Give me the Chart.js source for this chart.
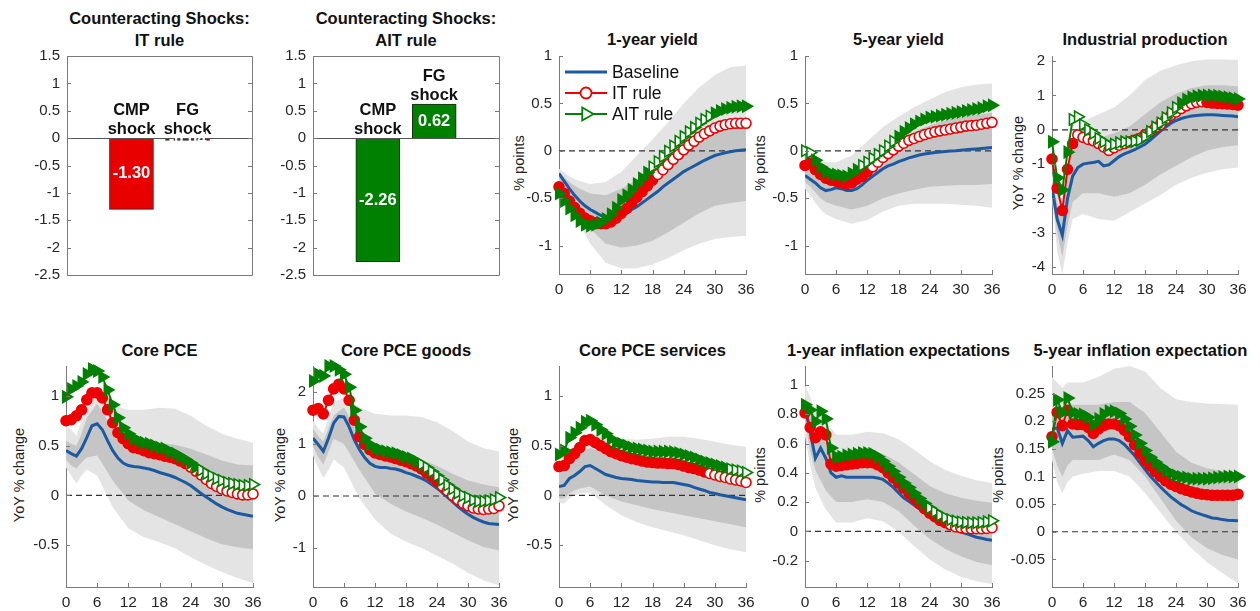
<!DOCTYPE html>
<html>
<head>
<meta charset="utf-8">
<title>Counteracting shocks</title>
<script src="https://cdn.jsdelivr.net/npm/chart.js@4.4.1/dist/chart.umd.min.js"></script>
<style>
  body { margin: 0; background: #fff; }
  #page { position: relative; width: 1260px; height: 611px; overflow: hidden; font-family: 'Liberation Sans', Arial, sans-serif; color: #111; }
  #page canvas { position: absolute; }
  #labels { position: absolute; left: 0; top: 0; width: 1248px; height: 611px; overflow: hidden; }
  .title { position: absolute; width: 320px; text-align: center; font-weight: bold; font-size: 16.5px; line-height: 22px; white-space: nowrap; }
  .ylab { position: absolute; width: 200px; text-align: center; font-size: 14.5px; line-height: 16px; white-space: nowrap; transform: rotate(-90deg); color: #222; }
</style>
</head>
<body>
<div id="page"><div id="labels"></div></div>
<script>
// x axis: months after the shock
const months = [0,1,2,3,4,5,6,7,8,9,10,11,12,13,14,15,16,17,18,19,20,21,22,23,24,25,26,27,28,29,30,31,32,33,34,35,36];
const monthTicks = [0, 6, 12, 18, 24, 30, 36];
const bandMonths = [0,1,2,3,4,6,9,12,15,18,21,24,27,30,33,36];
const seriesNames = ['Baseline', 'IT rule', 'AIT rule'];

// counteracting shocks (bar panels)
const shockLabels = ['CMP shock', 'FG shock'];
const shockPos = [1, 2];
const itShock = [-1.30, -0.04];
const aitShock = [-2.26, 0.62];
const shockTicks = [-2.5, -2, -1.5, -1, -0.5, 0, 0.5, 1, 1.5];

// 1-year yield
const y1Base = [-0.24,-0.32,-0.4,-0.47,-0.53,-0.58,-0.62,-0.65,-0.68,-0.71,-0.73,-0.72,-0.7,-0.66,-0.62,-0.59,-0.55,-0.51,-0.47,-0.43,-0.38,-0.34,-0.3,-0.26,-0.22,-0.19,-0.16,-0.13,-0.1,-0.075,-0.05,-0.035,-0.02,-0.01,0.0,0.005,0.01];
const y1IT = [-0.38,-0.45,-0.53,-0.6,-0.66,-0.71,-0.74,-0.76,-0.77,-0.77,-0.75,-0.71,-0.66,-0.61,-0.55,-0.49,-0.43,-0.37,-0.31,-0.25,-0.2,-0.145,-0.09,-0.04,0.01,0.06,0.1,0.145,0.18,0.21,0.24,0.26,0.275,0.285,0.29,0.29,0.29];
const y1AIT = [-0.45,-0.53,-0.61,-0.68,-0.74,-0.78,-0.79,-0.78,-0.76,-0.72,-0.67,-0.6,-0.52,-0.47,-0.41,-0.35,-0.29,-0.23,-0.17,-0.115,-0.06,-0.005,0.05,0.1,0.15,0.2,0.245,0.29,0.33,0.365,0.395,0.42,0.44,0.455,0.465,0.47,0.47];
const y1Hi90 = [-0.19,-0.23,-0.27,-0.3,-0.32,-0.35,-0.33,-0.22,-0.05,0.12,0.3,0.5,0.67,0.8,0.88,0.9];
const y1Hi68 = [-0.22,-0.28,-0.33,-0.37,-0.4,-0.45,-0.47,-0.4,-0.3,-0.18,-0.04,0.1,0.2,0.28,0.33,0.35];
const y1Lo68 = [-0.3,-0.38,-0.46,-0.56,-0.65,-0.82,-0.98,-1.02,-1.0,-0.95,-0.86,-0.76,-0.66,-0.58,-0.55,-0.53];
const y1Lo90 = [-0.34,-0.45,-0.55,-0.67,-0.78,-0.98,-1.18,-1.24,-1.24,-1.2,-1.13,-1.05,-0.98,-0.93,-0.91,-0.9];
const yieldTicks = [-1, -0.5, 0, 0.5, 1];

// 5-year yield
const y5Base = [-0.26,-0.3,-0.34,-0.39,-0.42,-0.41,-0.39,-0.4,-0.42,-0.42,-0.4,-0.36,-0.31,-0.27,-0.23,-0.19,-0.16,-0.14,-0.115,-0.095,-0.075,-0.06,-0.045,-0.035,-0.025,-0.018,-0.012,-0.007,-0.003,0.0,0.005,0.01,0.015,0.02,0.025,0.03,0.035];
const y5IT = [-0.155,-0.13,-0.2,-0.25,-0.29,-0.31,-0.32,-0.34,-0.35,-0.34,-0.3,-0.27,-0.22,-0.17,-0.12,-0.07,-0.03,0.01,0.05,0.08,0.11,0.13,0.15,0.17,0.185,0.2,0.21,0.22,0.23,0.24,0.25,0.26,0.265,0.27,0.28,0.29,0.3];
const y5AIT = [0.0,-0.02,-0.1,-0.17,-0.22,-0.24,-0.25,-0.26,-0.27,-0.24,-0.2,-0.155,-0.12,-0.08,-0.04,0.0,0.05,0.1,0.15,0.2,0.24,0.28,0.31,0.33,0.35,0.36,0.37,0.38,0.39,0.4,0.41,0.42,0.43,0.44,0.45,0.47,0.48];
const y5Hi90 = [-0.12,-0.12,-0.12,-0.12,-0.12,-0.12,-0.05,0.1,0.25,0.36,0.46,0.54,0.62,0.67,0.7,0.71];
const y5Hi68 = [-0.18,-0.2,-0.23,-0.25,-0.26,-0.27,-0.25,-0.15,-0.02,0.1,0.2,0.27,0.32,0.36,0.38,0.4];
const y5Lo68 = [-0.33,-0.38,-0.44,-0.5,-0.54,-0.58,-0.62,-0.58,-0.5,-0.45,-0.41,-0.38,-0.37,-0.36,-0.36,-0.35];
const y5Lo90 = [-0.4,-0.47,-0.55,-0.62,-0.67,-0.72,-0.77,-0.73,-0.64,-0.58,-0.56,-0.56,-0.56,-0.57,-0.58,-0.6];

// industrial production
const ipBase = [-1.69,-2.6,-3.07,-2.0,-1.35,-1.1,-1.0,-0.97,-0.95,-0.92,-1.05,-1.02,-0.9,-0.78,-0.7,-0.64,-0.58,-0.5,-0.42,-0.3,-0.17,-0.04,0.08,0.19,0.27,0.33,0.37,0.4,0.42,0.43,0.44,0.44,0.43,0.42,0.41,0.4,0.38];
const ipIT = [-0.85,-1.7,-2.35,-1.15,-0.4,-0.15,-0.22,-0.28,-0.32,-0.4,-0.5,-0.6,-0.52,-0.45,-0.4,-0.35,-0.3,-0.25,-0.15,-0.05,0.05,0.15,0.3,0.42,0.52,0.62,0.7,0.76,0.8,0.82,0.8,0.78,0.77,0.76,0.75,0.74,0.72];
const ipAIT = [-0.35,-1.4,-1.75,-0.65,0.3,0.38,0.15,0.0,-0.1,-0.25,-0.35,-0.45,-0.42,-0.38,-0.35,-0.35,-0.33,-0.3,-0.2,-0.05,0.08,0.2,0.35,0.5,0.65,0.78,0.88,0.95,0.98,1.0,1.0,1.0,0.99,0.97,0.95,0.92,0.9];
const ipHi90 = [-1.3,-1.8,-2.0,-0.9,-0.2,0.25,0.45,0.65,1.0,1.45,1.72,1.88,2.0,2.05,2.05,2.03];
const ipHi68 = [-1.5,-2.1,-2.5,-1.3,-0.6,-0.35,-0.25,-0.1,0.1,0.45,0.8,1.05,1.22,1.3,1.3,1.27];
const ipLo68 = [-1.9,-3.0,-3.7,-2.8,-2.1,-1.85,-1.85,-1.95,-1.85,-1.6,-1.3,-1.05,-0.8,-0.6,-0.5,-0.45];
const ipLo90 = [-2.0,-3.5,-4.2,-3.3,-2.6,-2.45,-2.6,-2.65,-2.4,-2.15,-1.9,-1.6,-1.4,-1.25,-1.15,-1.1];
const ipTicks = [-4, -3, -2, -1, 0, 1, 2];

// core PCE
const pceBase = [0.45,0.42,0.395,0.47,0.58,0.7,0.72,0.66,0.55,0.45,0.375,0.325,0.3,0.29,0.285,0.275,0.265,0.25,0.23,0.215,0.2,0.18,0.155,0.13,0.1,0.06,0.02,-0.015,-0.05,-0.085,-0.115,-0.14,-0.16,-0.18,-0.19,-0.2,-0.21];
const pceIT = [0.75,0.76,0.8,0.86,0.96,1.03,1.03,0.98,0.86,0.73,0.63,0.57,0.52,0.48,0.47,0.45,0.43,0.42,0.41,0.395,0.385,0.37,0.345,0.32,0.285,0.245,0.205,0.16,0.12,0.09,0.065,0.045,0.03,0.015,0.005,0.005,0.015];
const pceAIT = [0.99,1.07,1.1,1.14,1.22,1.27,1.25,1.19,1.06,0.91,0.78,0.68,0.62,0.57,0.55,0.53,0.52,0.5,0.48,0.47,0.44,0.42,0.39,0.36,0.325,0.285,0.255,0.22,0.195,0.17,0.15,0.13,0.12,0.11,0.1,0.1,0.11];
const pceHi90 = [0.7,0.66,0.6,0.75,0.88,1.0,0.9,0.86,0.86,0.88,0.87,0.8,0.7,0.62,0.57,0.53];
const pceHi68 = [0.55,0.52,0.5,0.62,0.78,0.92,0.68,0.56,0.54,0.53,0.51,0.47,0.41,0.35,0.31,0.3];
const pceLo68 = [0.36,0.3,0.27,0.33,0.38,0.4,0.15,-0.05,-0.15,-0.22,-0.29,-0.36,-0.43,-0.49,-0.52,-0.54];
const pceLo90 = [0.28,0.2,0.12,0.2,0.26,0.2,-0.12,-0.33,-0.42,-0.47,-0.53,-0.62,-0.7,-0.77,-0.83,-0.88];
const pceTicks = [-0.5, 0, 0.5, 1];

// core PCE goods
const gdsBase = [1.11,0.99,0.86,1.11,1.4,1.53,1.52,1.33,1.08,0.89,0.74,0.63,0.57,0.55,0.55,0.53,0.52,0.49,0.45,0.42,0.38,0.34,0.29,0.22,0.15,0.07,-0.02,-0.11,-0.2,-0.28,-0.35,-0.41,-0.46,-0.5,-0.53,-0.54,-0.55];
const gdsIT = [1.65,1.68,1.58,1.84,2.06,2.15,2.06,1.84,1.46,1.14,0.99,0.89,0.83,0.8,0.77,0.75,0.72,0.69,0.66,0.62,0.58,0.52,0.44,0.37,0.28,0.19,0.1,0.01,-0.07,-0.14,-0.19,-0.23,-0.25,-0.26,-0.25,-0.24,-0.19];
const gdsAIT = [2.21,2.34,2.31,2.5,2.5,2.43,2.34,2.09,1.65,1.33,1.11,0.99,0.92,0.89,0.86,0.84,0.82,0.79,0.75,0.72,0.67,0.61,0.55,0.47,0.39,0.31,0.21,0.14,0.06,0.01,-0.03,-0.08,-0.1,-0.1,-0.09,-0.07,-0.03];
const gdsHi90 = [1.45,1.3,1.2,1.5,1.8,1.9,1.7,1.58,1.55,1.55,1.52,1.42,1.25,1.05,0.92,0.86];
const gdsHi68 = [1.3,1.15,1.05,1.3,1.55,1.7,1.2,0.85,0.77,0.74,0.7,0.58,0.43,0.3,0.22,0.17];
const gdsLo68 = [0.95,0.75,0.6,0.85,1.1,1.0,0.5,0.05,-0.15,-0.3,-0.42,-0.55,-0.7,-0.85,-0.98,-1.05];
const gdsLo90 = [0.78,0.55,0.35,0.5,0.7,0.55,-0.05,-0.45,-0.72,-0.88,-1.0,-1.15,-1.3,-1.48,-1.62,-1.72];
const gdsTicks = [-1, 0, 1, 2];

// core PCE services
const svcBase = [0.09,0.1,0.17,0.2,0.24,0.29,0.3,0.27,0.24,0.21,0.195,0.18,0.17,0.165,0.16,0.15,0.145,0.14,0.135,0.135,0.13,0.13,0.13,0.12,0.11,0.1,0.08,0.065,0.05,0.03,0.02,0.007,-0.003,-0.013,-0.023,-0.033,-0.043];
const svcIT = [0.29,0.3,0.37,0.42,0.48,0.55,0.56,0.53,0.5,0.47,0.44,0.42,0.4,0.385,0.37,0.36,0.345,0.335,0.33,0.325,0.325,0.32,0.32,0.31,0.295,0.28,0.27,0.255,0.235,0.22,0.205,0.19,0.18,0.165,0.155,0.145,0.13];
const svcAIT = [0.41,0.45,0.58,0.63,0.68,0.74,0.75,0.71,0.66,0.62,0.57,0.53,0.52,0.5,0.48,0.47,0.46,0.45,0.44,0.44,0.44,0.44,0.435,0.425,0.41,0.395,0.38,0.36,0.34,0.325,0.31,0.295,0.28,0.265,0.255,0.245,0.23];
const svcHi90 = [0.4,0.38,0.45,0.5,0.55,0.62,0.6,0.57,0.56,0.57,0.59,0.59,0.57,0.54,0.51,0.49];
const svcHi68 = [0.25,0.25,0.32,0.37,0.42,0.48,0.42,0.37,0.35,0.35,0.35,0.34,0.31,0.27,0.24,0.22];
const svcLo68 = [-0.03,-0.03,0.02,0.05,0.07,0.09,0.0,-0.06,-0.1,-0.14,-0.17,-0.2,-0.23,-0.26,-0.29,-0.32];
const svcLo90 = [-0.07,-0.08,-0.03,0.0,0.02,0.03,-0.1,-0.2,-0.27,-0.32,-0.36,-0.4,-0.45,-0.5,-0.54,-0.57];

// 1-year inflation expectations
const ie1Base = [0.86,0.68,0.5,0.57,0.5,0.4,0.37,0.38,0.37,0.37,0.37,0.37,0.37,0.37,0.365,0.355,0.33,0.3,0.265,0.23,0.205,0.18,0.155,0.13,0.105,0.08,0.06,0.04,0.025,0.01,-0.005,-0.015,-0.027,-0.04,-0.047,-0.055,-0.06];
const ie1IT = [0.81,0.71,0.64,0.68,0.66,0.46,0.445,0.45,0.455,0.46,0.465,0.47,0.47,0.47,0.455,0.435,0.4,0.365,0.33,0.295,0.26,0.225,0.19,0.155,0.125,0.1,0.075,0.06,0.045,0.03,0.025,0.02,0.018,0.018,0.018,0.02,0.025];
const ie1AIT = [0.865,0.83,0.75,0.82,0.77,0.57,0.51,0.51,0.52,0.525,0.53,0.535,0.535,0.53,0.51,0.48,0.445,0.41,0.37,0.33,0.3,0.26,0.225,0.19,0.16,0.135,0.11,0.093,0.08,0.07,0.064,0.061,0.059,0.059,0.061,0.066,0.073];
const ie1Hi90 = [1.0,0.92,0.82,0.8,0.75,0.66,0.66,0.68,0.67,0.63,0.56,0.48,0.42,0.38,0.35,0.33];
const ie1Hi68 = [0.92,0.8,0.7,0.68,0.63,0.53,0.53,0.55,0.53,0.47,0.39,0.31,0.26,0.23,0.21,0.195];
const ie1Lo68 = [0.75,0.55,0.42,0.35,0.28,0.2,0.2,0.22,0.2,0.14,0.04,-0.05,-0.12,-0.17,-0.21,-0.23];
const ie1Lo90 = [0.65,0.45,0.3,0.22,0.15,0.06,0.06,0.09,0.07,0.0,-0.1,-0.19,-0.26,-0.31,-0.34,-0.36];
const ie1Ticks = [-0.2, 0, 0.2, 0.4, 0.6, 0.8, 1];

// 5-year inflation expectations
const ie5Base = [0.186,0.188,0.16,0.183,0.171,0.172,0.173,0.165,0.154,0.16,0.165,0.168,0.168,0.165,0.158,0.148,0.138,0.125,0.113,0.101,0.091,0.081,0.072,0.063,0.056,0.049,0.044,0.038,0.034,0.031,0.028,0.025,0.024,0.022,0.021,0.0205,0.02];
const ie5IT = [0.172,0.216,0.192,0.22,0.195,0.194,0.194,0.189,0.178,0.186,0.192,0.195,0.195,0.192,0.184,0.172,0.157,0.142,0.129,0.119,0.109,0.1,0.092,0.086,0.082,0.078,0.075,0.072,0.07,0.068,0.067,0.066,0.066,0.066,0.066,0.066,0.068];
const ie5AIT = [0.163,0.239,0.216,0.242,0.216,0.213,0.212,0.207,0.194,0.204,0.213,0.218,0.218,0.214,0.204,0.191,0.175,0.16,0.147,0.135,0.126,0.118,0.111,0.106,0.102,0.099,0.098,0.096,0.096,0.096,0.096,0.097,0.098,0.099,0.1,0.1,0.1];
const ie5Hi90 = [0.28,0.27,0.26,0.27,0.27,0.27,0.28,0.295,0.3,0.29,0.26,0.24,0.235,0.232,0.231,0.23];
const ie5Hi68 = [0.21,0.22,0.22,0.23,0.23,0.23,0.23,0.235,0.235,0.215,0.18,0.145,0.125,0.115,0.11,0.107];
const ie5Lo68 = [0.15,0.12,0.1,0.12,0.13,0.13,0.13,0.14,0.13,0.1,0.06,0.02,-0.01,-0.03,-0.042,-0.05];
const ie5Lo90 = [0.13,0.09,0.07,0.09,0.1,0.105,0.11,0.11,0.1,0.07,0.035,0.0,-0.03,-0.055,-0.075,-0.093];
const ie5Ticks = [-0.05, 0, 0.05, 0.1, 0.15, 0.2, 0.25];


const BLUE = '#1b5aa0', RED = '#ee0000', GREEN = '#008000';
const LIGHT = '#e4e4e4', DARK = '#c5c5c5', AXIS = '#7a7a7a';
const FONT = "'Liberation Sans', Arial, sans-serif";
const Y_W = 50, X_H = 32, PAD_T = 12, PAD_R = 16;

Chart.defaults.font.family = FONT;
Chart.defaults.font.size = 15;
Chart.defaults.color = '#262626';
Chart.defaults.animation = false;
Chart.defaults.events = [];
Chart.defaults.plugins.legend.display = false;
Chart.defaults.plugins.tooltip.enabled = false;

const page = document.getElementById('page');
const labels = document.getElementById('labels');

function pts(xs, ys) {
    return ys.map((v, i) => ({ x: xs[i], y: v }));
}

// white inside the marker where the response is not significant
function markerFill(n, hollow, color) {
    const out = [];
    for (let i = 0; i < n; i++) {
        const h = hollow.some(r => i >= r[0] && i <= r[1]);
        out.push(h ? '#fff' : color);
    }
    return out;
}

function addCanvas(b) {
    const cv = document.createElement('canvas');
    const w = b.w + Y_W + PAD_R, h = b.h + PAD_T + X_H;
    cv.width = w; cv.height = h;
    cv.style.width = w + 'px'; cv.style.height = h + 'px';
    cv.style.left = (b.x - Y_W) + 'px';
    cv.style.top = (b.y - PAD_T) + 'px';
    page.appendChild(cv);
    return cv;
}

function addTitle(text, cx, top) {
    const d = document.createElement('div');
    d.className = 'title';
    d.innerHTML = text;
    d.style.left = (cx - 160) + 'px';
    d.style.top = top + 'px';
    labels.appendChild(d);
}

function addYLabel(text, cx, cy) {
    const d = document.createElement('div');
    d.className = 'ylab';
    d.textContent = text;
    d.style.left = (cx - 100) + 'px';
    d.style.top = (cy - 8) + 'px';
    labels.appendChild(d);
}

function yScale(min, max, ticks, border) {
    return {
        min, max,
        afterBuildTicks: s => { s.ticks = ticks.map(v => ({ value: v })); },
        afterFit: s => { s.width = Y_W; },
        grid: { display: false, drawTicks: false },
        border: { display: border, color: AXIS },
        ticks: { padding: 7, autoSkip: false, callback: v => String(v) }
    };
}

// small inward tick marks, like the original figure
const axisTicks = {
    id: 'axisTicks',
    afterDraw(chart, args, opts) {
        const { ctx, chartArea: a, scales: { x, y } } = chart;
        ctx.save();
        ctx.strokeStyle = AXIS;
        ctx.lineWidth = 1;
        ctx.beginPath();
        if (opts.xTicks !== false) {
            x.ticks.forEach(t => {
                const px = Math.round(x.getPixelForValue(t.value)) + 0.5;
                ctx.moveTo(px, a.bottom); ctx.lineTo(px, a.bottom - 4);
            });
        }
        y.ticks.forEach(t => {
            const py = Math.round(y.getPixelForValue(t.value)) + 0.5;
            ctx.moveTo(a.left, py); ctx.lineTo(a.left + 4, py);
            if (opts.box) { ctx.moveTo(a.right, py); ctx.lineTo(a.right - 4, py); }
        });
        if (opts.box) ctx.rect(Math.round(a.left) + 0.5, Math.round(a.top) + 0.5, Math.round(a.right - a.left), Math.round(a.bottom - a.top));
        ctx.stroke();
        ctx.restore();
    }
};

const barLabels = {
    id: 'barLabels',
    afterDatasetsDraw(chart) {
        const { ctx, chartArea: a, scales: { y } } = chart;
        const meta = chart.getDatasetMeta(0);
        const vals = chart.data.datasets[0].data;
        const y0 = Math.round(y.getPixelForValue(0)) + 0.5;
        ctx.save();
        ctx.strokeStyle = '#555';
        ctx.lineWidth = 1;
        ctx.beginPath(); ctx.moveTo(a.left, y0); ctx.lineTo(a.right, y0); ctx.stroke();
        ctx.textAlign = 'center';
        ctx.textBaseline = 'middle';
        ctx.font = 'bold 16.5px ' + FONT;
        meta.data.forEach((bar, i) => {
            const top = Math.min(bar.y, bar.base);
            const words = shockLabels[i].split(' ');
            ctx.fillStyle = '#111';
            ctx.fillText(words[0], bar.x, top - 28);
            ctx.fillText(words[1], bar.x, top - 9);
            ctx.fillStyle = '#fff';
            ctx.fillText(vals[i].y.toFixed(2), bar.x, (bar.y + bar.base) / 2);
        });
        ctx.restore();
    }
};

const innerLegend = {
    id: 'innerLegend',
    afterDraw(chart) {
        const { ctx, chartArea: a } = chart;
        const rows = [16, 37, 58];
        const colors = [BLUE, RED, GREEN];
        ctx.save();
        ctx.font = '17.5px ' + FONT;
        ctx.textBaseline = 'middle';
        seriesNames.forEach((name, i) => {
            const yy = a.top + rows[i], x0 = a.left + 6, x1 = a.left + 48, xm = (x0 + x1) / 2;
            ctx.strokeStyle = colors[i];
            ctx.lineWidth = i === 0 ? 3 : 2;
            ctx.beginPath(); ctx.moveTo(x0, yy); ctx.lineTo(x1, yy); ctx.stroke();
            ctx.fillStyle = '#fff';
            ctx.lineWidth = 1.8;
            if (i === 1) {
                ctx.beginPath(); ctx.arc(xm, yy, 5.5, 0, Math.PI * 2); ctx.fill(); ctx.stroke();
            } else if (i === 2) {
                const r = 7.5;
                ctx.beginPath();
                ctx.moveTo(xm + r, yy);
                ctx.lineTo(xm - r / 2, yy - r * 0.866);
                ctx.lineTo(xm - r / 2, yy + r * 0.866);
                ctx.closePath(); ctx.fill(); ctx.stroke();
            }
            ctx.fillStyle = '#111';
            ctx.fillText(name, a.left + 53, yy + 1);
        });
        ctx.restore();
    }
};

function barPanel(p) {
    const cv = addCanvas(p.box);
    new Chart(cv, {
        type: 'bar',
        data: {
            datasets: [{
                data: p.values.map((v, i) => ({ x: shockPos[i], y: v })),
                backgroundColor: p.color,
                borderColor: '#222',
                borderWidth: 1,
                barThickness: 44
            }]
        },
        options: {
            responsive: false,
            devicePixelRatio: 1,
            layout: { padding: { top: PAD_T, right: PAD_R } },
            scales: {
                x: {
                    type: 'linear', min: -0.15, max: 3.15, offset: false,
                    afterFit: s => { s.height = X_H; },
                    ticks: { display: false },
                    grid: { display: false, drawTicks: false },
                    border: { display: false }
                },
                y: yScale(-2.5, 1.5, shockTicks, false)
            },
            plugins: { axisTicks: { box: true, xTicks: false } }
        },
        plugins: [axisTicks, barLabels]
    });
    addTitle(p.title, p.box.x + p.box.w / 2, 7);
}

function linePanel(p) {
    const cv = addCanvas(p.box);
    const band = (arr, color, fill, order) => ({
        data: pts(bandMonths, arr), borderColor: 'rgba(0,0,0,0)', borderWidth: 0,
        pointRadius: 0, backgroundColor: color, fill, order
    });
    const datasets = [
        band(p.hi90, LIGHT, false, 20),
        band(p.lo90, LIGHT, '-1', 20),
        band(p.hi68, DARK, false, 19),
        band(p.lo68, DARK, '-1', 19),
        { data: [{ x: 0, y: 0 }, { x: 36, y: 0 }], borderColor: '#333', borderWidth: 1.2,
          borderDash: [6, 4], pointRadius: 0, fill: false, order: 5 },
        { data: pts(months, p.base), borderColor: BLUE, borderWidth: 3, pointRadius: 0, fill: false, order: 3 },
        { data: pts(months, p.it), borderColor: RED, borderWidth: 2, fill: false, order: 2, clip: false,
          pointRadius: 5, pointBorderWidth: 1.6, pointBorderColor: RED,
          pointBackgroundColor: markerFill(p.it.length, p.itHollow, RED) },
        { data: pts(months, p.ait), borderColor: GREEN, borderWidth: 2, fill: false, order: 1, clip: false,
          pointStyle: 'triangle', pointRotation: 90, pointRadius: 6.5, pointBorderWidth: 1.6,
          pointBorderColor: GREEN, pointBackgroundColor: markerFill(p.ait.length, p.aitHollow, GREEN) }
    ];
    new Chart(cv, {
        type: 'line',
        data: { datasets },
        options: {
            responsive: false,
            devicePixelRatio: 1,
            layout: { padding: { top: PAD_T, right: PAD_R } },
            elements: { line: { tension: 0 } },
            scales: {
                x: {
                    type: 'linear', min: 0, max: 36,
                    afterBuildTicks: s => { s.ticks = monthTicks.map(v => ({ value: v })); },
                    afterFit: s => { s.height = X_H; },
                    grid: { display: false, drawTicks: false },
                    border: { color: AXIS },
                    ticks: { padding: 6, autoSkip: false, maxRotation: 0, font: { size: 15.5 }, callback: v => String(v) }
                },
                y: yScale(p.min, p.max, p.ticks, true)
            },
            plugins: { axisTicks: {} }
        },
        plugins: p.legend ? [axisTicks, innerLegend] : [axisTicks]
    });
    addTitle(p.title, p.box.x + p.box.w / 2, p.box.y < 100 ? 28 : 339);
    addYLabel(p.ylab, p.ylabX, p.box.y + p.box.h / 2);
}

barPanel({ box: { x: 67, y: 52, w: 185, h: 223 }, values: itShock, color: '#e80000',
           title: 'Counteracting Shocks:<br>IT rule' });
barPanel({ box: { x: 313, y: 52, w: 186, h: 223 }, values: aitShock, color: '#008000',
           title: 'Counteracting Shocks:<br>AIT rule' });

const linePanels = [
    { title: '1-year yield', ylab: '% points', ylabX: 519, box: { x: 559, y: 52, w: 187, h: 222 },
      min: -1.3, max: 1, ticks: yieldTicks, legend: true,
      base: y1Base, it: y1IT, ait: y1AIT, hi90: y1Hi90, hi68: y1Hi68, lo68: y1Lo68, lo90: y1Lo90,
      itHollow: [[19, 36]], aitHollow: [[18, 29]] },
    { title: '5-year yield', ylab: '% points', ylabX: 760, box: { x: 805, y: 52, w: 187, h: 222 },
      min: -1.3, max: 1, ticks: yieldTicks,
      base: y5Base, it: y5IT, ait: y5AIT, hi90: y5Hi90, hi68: y5Hi68, lo68: y5Lo68, lo90: y5Lo90,
      itHollow: [[13, 36]], aitHollow: [[0, 1], [11, 17]] },
    { title: 'Industrial production', ylab: 'YoY % change', ylabX: 1018, box: { x: 1052, y: 52, w: 186, h: 222 },
      min: -4.2, max: 2.15, ticks: ipTicks,
      base: ipBase, it: ipIT, ait: ipAIT, hi90: ipHi90, hi68: ipHi68, lo68: ipLo68, lo90: ipLo90,
      itHollow: [[5, 29]], aitHollow: [[4, 24]] },
    { title: 'Core PCE', ylab: 'YoY % change', ylabX: 19, box: { x: 66, y: 362, w: 187, h: 225 },
      min: -0.92, max: 1.3, ticks: pceTicks,
      base: pceBase, it: pceIT, ait: pceAIT, hi90: pceHi90, hi68: pceHi68, lo68: pceLo68, lo90: pceLo90,
      itHollow: [[24, 36]], aitHollow: [[26, 36]] },
    { title: 'Core PCE goods', ylab: 'YoY % change', ylabX: 280, box: { x: 313, y: 362, w: 186, h: 225 },
      min: -1.75, max: 2.5, ticks: gdsTicks,
      base: gdsBase, it: gdsIT, ait: gdsAIT, hi90: gdsHi90, hi68: gdsHi68, lo68: gdsLo68, lo90: gdsLo90,
      itHollow: [[25, 36]], aitHollow: [[21, 36]] },
    { title: 'Core PCE services', ylab: 'YoY % change', ylabX: 513, box: { x: 559, y: 362, w: 187, h: 225 },
      min: -0.92, max: 1.3, ticks: pceTicks,
      base: svcBase, it: svcIT, ait: svcAIT, hi90: svcHi90, hi68: svcHi68, lo68: svcLo68, lo90: svcLo90,
      itHollow: [[29, 36]], aitHollow: [[33, 36]] },
    { title: '1-year inflation expectations', ylab: '% points', ylabX: 760, box: { x: 805, y: 362, w: 187, h: 225 },
      min: -0.38, max: 1.13, ticks: ie1Ticks,
      base: ie1Base, it: ie1IT, ait: ie1AIT, hi90: ie1Hi90, hi68: ie1Hi68, lo68: ie1Lo68, lo90: ie1Lo90,
      itHollow: [[28, 36]], aitHollow: [[24, 36]] },
    { title: '5-year inflation expectations', ylab: '% points', ylabX: 998, box: { x: 1052, y: 362, w: 186, h: 225 },
      min: -0.1, max: 0.3, ticks: ie5Ticks,
      base: ie5Base, it: ie5IT, ait: ie5AIT, hi90: ie5Hi90, hi68: ie5Hi68, lo68: ie5Lo68, lo90: ie5Lo90,
      itHollow: [], aitHollow: [] }
];

linePanels.forEach(linePanel);
</script>
</body>
</html>
